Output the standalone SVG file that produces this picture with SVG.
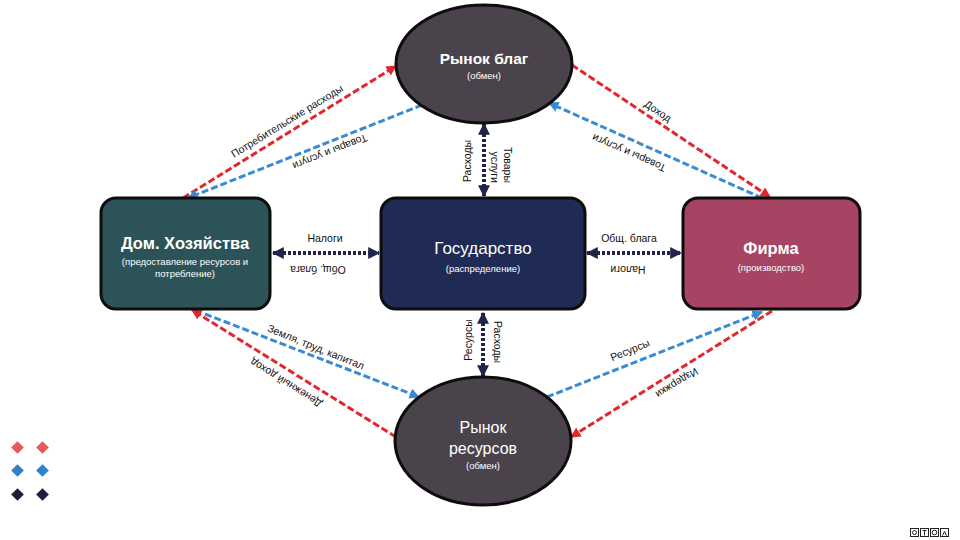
<svg xmlns="http://www.w3.org/2000/svg" width="960" height="540" viewBox="0 0 960 540">
<style>
.bg{fill:#ffffff}
.market{fill:#4a434b;stroke:#0d0d0d;stroke-width:3}
.box{stroke:#0d0d0d;stroke-width:3}
.title{font-family:"Liberation Sans",Arial,sans-serif;font-weight:bold;fill:#ffffff;text-anchor:middle}
.sub{font-family:"Liberation Sans",Arial,sans-serif;fill:#ffffff;text-anchor:middle;font-size:9.5px}
.lbl{font-family:"Liberation Sans",Arial,sans-serif;fill:#111111;font-size:10.5px;text-anchor:middle}
.red{stroke:#e3262b;stroke-width:3;stroke-dasharray:7 3;fill:none}
.blue{stroke:#3a8bd2;stroke-width:3;stroke-dasharray:7 3;fill:none}
.navy{stroke:#22234a;stroke-width:4;stroke-dasharray:3 2;fill:none}
</style>
<defs>
<marker id="mr" viewBox="0 0 10 10" refX="9" refY="5" markerWidth="3.5" markerHeight="3.5" orient="auto-start-reverse" markerUnits="strokeWidth"><path d="M0,0 L10,5 L0,10 z" fill="#e3262b"/></marker>
<marker id="mb" viewBox="0 0 10 10" refX="9" refY="5" markerWidth="3.5" markerHeight="3.5" orient="auto-start-reverse" markerUnits="strokeWidth"><path d="M0,0 L10,5 L0,10 z" fill="#3a8bd2"/></marker>
<marker id="mn" viewBox="0 0 10 10" refX="9" refY="5" markerWidth="3" markerHeight="3" orient="auto-start-reverse" markerUnits="strokeWidth"><path d="M0,0 L10,5 L0,10 z" fill="#22234a"/></marker>
</defs>
<rect class="bg" x="0" y="0" width="960" height="540"/>

<g id="connectors">
  <line class="red" x1="183" y1="198" x2="396" y2="66" marker-end="url(#mr)"/>
  <line class="blue" x1="422" y1="105" x2="188" y2="198" marker-end="url(#mb)"/>
  <line class="red" x1="572" y1="65" x2="770" y2="197" marker-end="url(#mr)"/>
  <line class="blue" x1="762" y1="198" x2="549" y2="103" marker-end="url(#mb)"/>
  <line class="blue" x1="205" y1="314" x2="419" y2="397" marker-end="url(#mb)"/>
  <line class="red" x1="396" y1="437" x2="192" y2="310" marker-end="url(#mr)"/>
  <line class="blue" x1="547" y1="397" x2="762" y2="312" marker-end="url(#mb)"/>
  <line class="red" x1="772" y1="311" x2="571" y2="437" marker-end="url(#mr)"/>
  <line class="navy" x1="484" y1="124" x2="484" y2="196" marker-start="url(#mn)" marker-end="url(#mn)"/>
  <line class="navy" x1="483" y1="313" x2="483" y2="376" marker-start="url(#mn)" marker-end="url(#mn)"/>
  <line class="navy" x1="273" y1="253" x2="379" y2="253" marker-start="url(#mn)" marker-end="url(#mn)"/>
  <line class="navy" x1="587" y1="253" x2="681" y2="253" marker-start="url(#mn)" marker-end="url(#mn)"/>

  <text class="lbl" transform="translate(287,121) rotate(-31.6)" dy="0.35em">Потребительские расходы</text>
  <text class="lbl" transform="translate(330,152) rotate(158.5)" dy="0.35em">Товары и услуги</text>
  <text class="lbl" transform="translate(658,111) rotate(33.4)" dy="0.35em">Доход</text>
  <text class="lbl" transform="translate(629,153) rotate(203.6)" dy="0.35em">Товары и услуги</text>
  <text class="lbl" transform="translate(316,347) rotate(22)" dy="0.35em">Земля, труд, капитал</text>
  <text class="lbl" transform="translate(286,383) rotate(212)" dy="0.35em">Денежный доход</text>
  <text class="lbl" transform="translate(630,350) rotate(-22)" dy="0.35em">Ресурсы</text>
  <text class="lbl" transform="translate(677,383) rotate(148.3)" dy="0.35em">Издержки</text>

  <text class="lbl" transform="translate(467,161) rotate(-90)" dy="0.35em">Расходы</text>
  <text class="lbl" transform="translate(508,183) rotate(90)" dy="0.35em" style="text-anchor:end">Товары</text>
  <text class="lbl" transform="translate(495,183) rotate(90)" dy="0.35em" style="text-anchor:end">услуги</text>
  <text class="lbl" transform="translate(468,340) rotate(-90)" dy="0.35em">Ресурсы</text>
  <text class="lbl" transform="translate(498,342) rotate(90)" dy="0.35em">Расходы</text>

  <text class="lbl" x="325" y="238" dy="0.35em">Налоги</text>
  <text class="lbl" transform="translate(318,270) rotate(180)" dy="0.35em">Общ. блага</text>
  <text class="lbl" x="629" y="238" dy="0.35em">Общ. блага</text>
  <text class="lbl" transform="translate(628,270) rotate(180)" dy="0.35em">Налоги</text>
</g>

<g id="market-goods">
  <ellipse class="market" cx="484" cy="64" rx="88" ry="59"/>
  <text class="title" x="484" y="64" font-size="15.5">Рынок благ</text>
  <text class="sub" x="484" y="79">(обмен)</text>
</g>

<g id="market-resources">
  <ellipse class="market" cx="483" cy="441" rx="88" ry="64"/>
  <text class="title" x="483" y="433" font-size="16" style="font-weight:normal">Рынок</text>
  <text class="title" x="483" y="454" font-size="16" style="font-weight:normal">ресурсов</text>
  <text class="sub" x="483" y="469">(обмен)</text>
</g>

<g id="households">
  <rect class="box" x="101" y="198" width="169" height="111" rx="15" fill="#2c5458"/>
  <text class="title" x="185" y="249" font-size="16.5">Дом. Хозяйства</text>
  <text class="sub" x="185" y="265">(предоставление ресурсов и</text>
  <text class="sub" x="185" y="277">потребление)</text>
</g>

<g id="state">
  <rect class="box" x="381" y="198" width="204" height="111" rx="15" fill="#1f2b54"/>
  <text class="title" x="483" y="254" font-size="17" style="font-weight:normal">Государство</text>
  <text class="sub" x="483" y="272">(распределение)</text>
</g>

<g id="firm">
  <rect class="box" x="683" y="198" width="177" height="111" rx="15" fill="#a74463"/>
  <text class="title" x="771" y="254" font-size="16.5">Фирма</text>
  <text class="sub" x="771" y="271">(производство)</text>
</g>

<g id="legend">
  <rect x="13" y="443" width="9" height="9" fill="#e8585a" transform="rotate(45 17.5 447.5)"/>
  <rect x="38" y="443" width="9" height="9" fill="#e8585a" transform="rotate(45 42.5 447.5)"/>
  <rect x="13" y="466" width="9" height="9" fill="#2e82c9" transform="rotate(45 17.5 470.5)"/>
  <rect x="38" y="466" width="9" height="9" fill="#2e82c9" transform="rotate(45 42.5 470.5)"/>
  <rect x="13" y="490" width="9" height="9" fill="#1e1e3c" transform="rotate(45 17.5 494.5)"/>
  <rect x="38" y="490" width="9" height="9" fill="#1e1e3c" transform="rotate(45 42.5 494.5)"/>
</g>

<g id="icons" fill="none" stroke="#222" stroke-width="1">
  <rect x="910.5" y="528.5" width="8" height="8"/>
  <rect x="920.5" y="528.5" width="8" height="8"/>
  <rect x="930.5" y="528.5" width="8" height="8"/>
  <rect x="940.5" y="528.5" width="8" height="8"/>
  <circle cx="914.5" cy="532.5" r="2"/>
  <path d="M922.5 530.5 h4 M924.5 530.5 v5"/>
  <circle cx="934.5" cy="532.5" r="2.3"/>
  <path d="M942.5 535.5 l2 -4 l2 4"/>
</g>
</svg>
